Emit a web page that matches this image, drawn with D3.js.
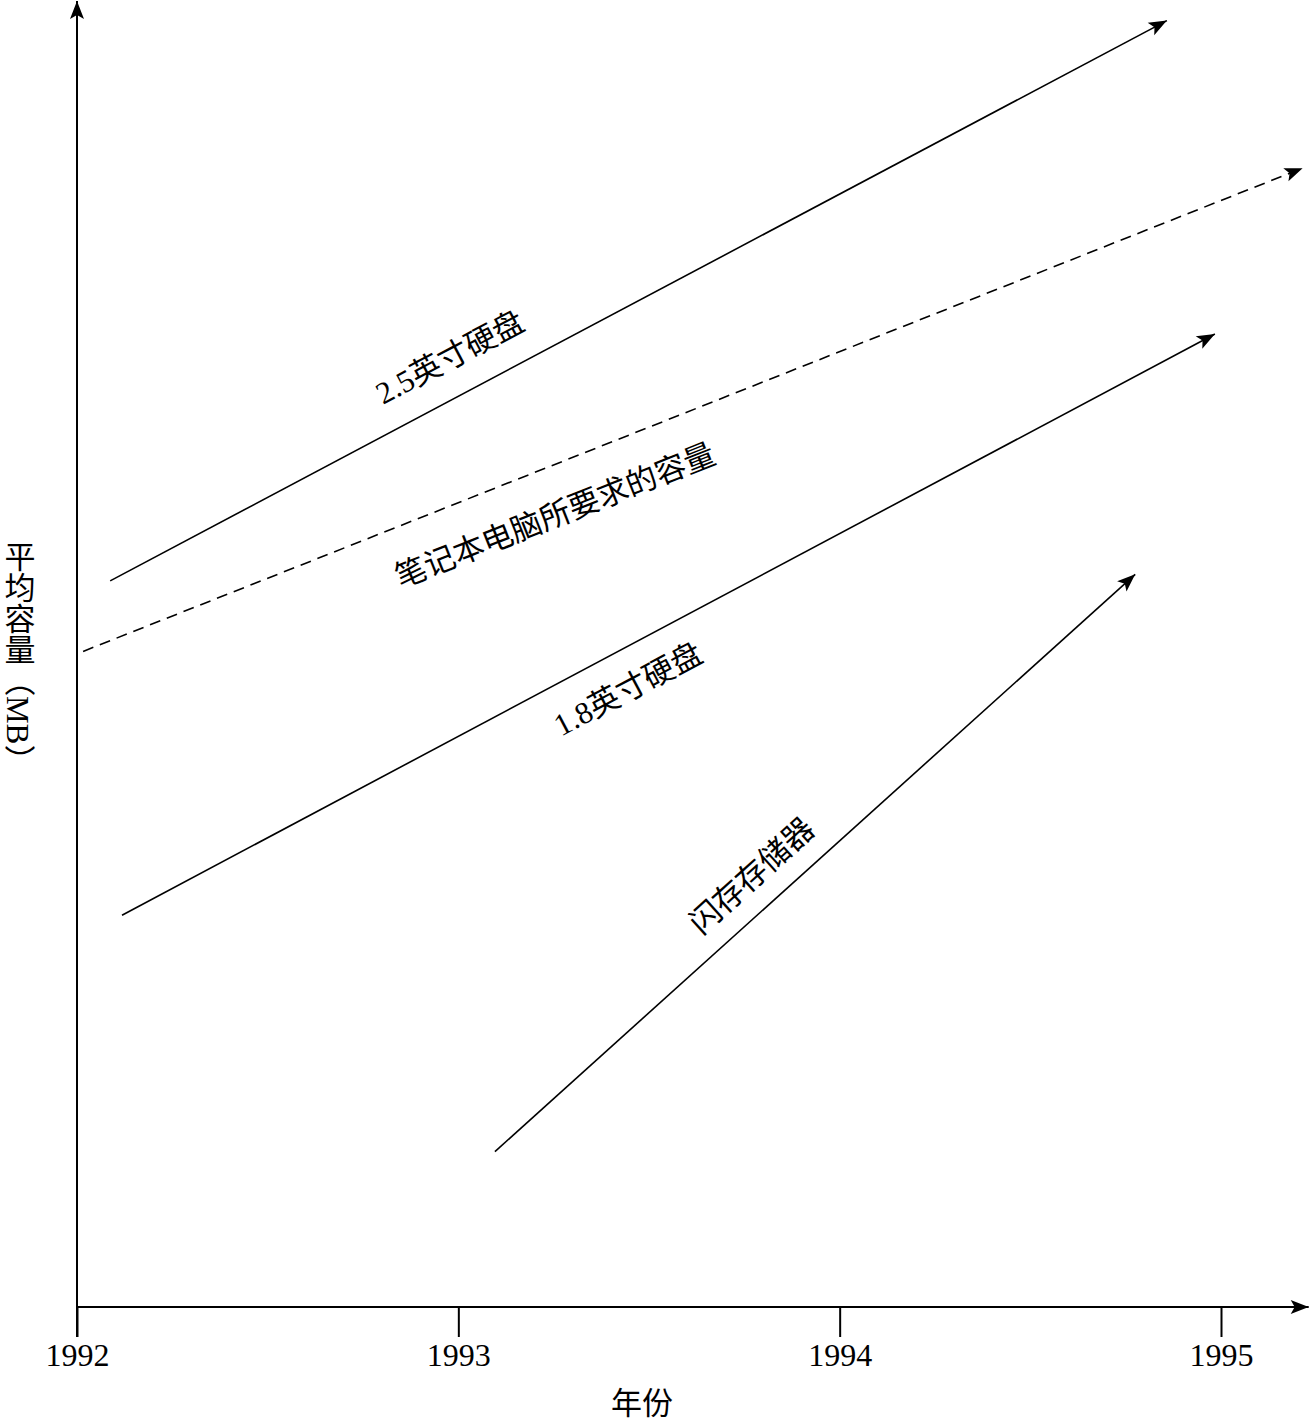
<!DOCTYPE html>
<html>
<head>
<meta charset="utf-8">
<script src="https://cdn.jsdelivr.net/npm/d3@7"></script>
<style>
  html, body { margin: 0; padding: 0; background: #fff; }
  svg { display: block; }
  text { font-family: "Liberation Serif", "Noto Sans CJK SC", serif; fill: #000; }
</style>
</head>
<body>
<svg id="chart" width="1311" height="1420"></svg>
<script>
// ---- data ----
const years = [1992, 1993, 1994, 1995];
const tickLabels = ["1992", "1993", "1994", "1995"];
const seriesNames = ["2.5英寸硬盘", "笔记本电脑所要求的容量", "1.8英寸硬盘", "闪存存储器"];
const seriesDashed = [false, true, false, false];
// each series: start point and end point [year, value]
const seriesStart = [[1992.087, 55.6], [1992.016, 50.2], [1992.118, 30.0], [1993.096, 11.9]];
const seriesEnd   = [[1994.858, 98.5], [1995.214, 87.2], [1994.984, 74.5], [1994.775, 56.1]];
// label anchor positions [year, value]
const labelAnchor = [[1992.978, 72.7], [1993.254, 60.6], [1993.445, 47.3], [1993.770, 33.0]];
const xAxisTitle = "年份";
const yAxisTitle = "平均容量（MB）";
const xMax = 1995.23, yMax = 100;

// ---- layout ----
const svg = d3.select("#chart");
const x = d3.scaleLinear().domain([1992, 1995]).range([77, 1221]);
const y = d3.scaleLinear().domain([0, 100]).range([1307, 1]);

const defs = svg.append("defs");
defs.append("marker")
  .attr("id", "arrow")
  .attr("markerUnits", "userSpaceOnUse")
  .attr("viewBox", "-19 -8 21 16")
  .attr("refX", 0).attr("refY", 0)
  .attr("markerWidth", 21).attr("markerHeight", 16)
  .attr("orient", "auto")
  .append("path")
  .attr("d", "M0,0 L-18,-7 L-14,0 L-18,7 Z")
  .attr("fill", "#000");

// axis lines
svg.append("line")
  .attr("x1", x(1992)).attr("y1", y(0)).attr("x2", x(xMax)).attr("y2", y(0))
  .attr("stroke", "#000").attr("stroke-width", 2).attr("marker-end", "url(#arrow)");
svg.append("line")
  .attr("x1", x(1992)).attr("y1", y(0) + 30).attr("x2", x(1992)).attr("y2", y(yMax))
  .attr("stroke", "#000").attr("stroke-width", 2).attr("marker-end", "url(#arrow)");

// ticks via d3 axis
const xAxis = d3.axisBottom(x)
  .tickValues(years)
  .tickFormat((d, i) => tickLabels[i])
  .tickSize(30)
  .tickPadding(4);
const gx = svg.append("g").attr("transform", `translate(0,${y(0)})`).call(xAxis);
gx.select(".domain").remove();
gx.selectAll(".tick line").attr("stroke", "#000").attr("stroke-width", 2);
gx.selectAll(".tick text")
  .attr("font-family", "Liberation Serif, serif")
  .attr("font-size", 32).attr("fill", "#000")
  .attr("dy", null).attr("y", 59);

// axis titles
svg.append("text")
  .attr("x", 642).attr("y", 1414)
  .attr("text-anchor", "middle")
  .attr("font-size", 31)
  .text(xAxisTitle);

svg.append("text")
  .attr("x", 17).attr("y", 541)
  .style("writing-mode", "vertical-rl")
  .style("text-orientation", "mixed")
  .attr("font-size", 31)
  .text(yAxisTitle);

// series lines
seriesNames.forEach((name, i) => {
  const [x0, v0] = seriesStart[i];
  const [x1, v1] = seriesEnd[i];
  const px0 = x(x0), py0 = y(v0), px1 = x(x1), py1 = y(v1);
  svg.append("line")
    .attr("x1", px0).attr("y1", py0).attr("x2", px1).attr("y2", py1)
    .attr("stroke", "#000").attr("stroke-width", 1.6)
    .attr("stroke-dasharray", seriesDashed[i] ? "11,7" : null)
    .attr("marker-end", "url(#arrow)");
  const ang = Math.atan2(py1 - py0, px1 - px0) * 180 / Math.PI;
  const [lx, lv] = labelAnchor[i];
  svg.append("text")
    .attr("transform", `translate(${x(lx)},${y(lv)}) rotate(${ang})`)
    .attr("text-anchor", "middle")
    .attr("dominant-baseline", "central")
    .attr("font-size", 31)
    .text(name);
});
</script>
</body>
</html>
